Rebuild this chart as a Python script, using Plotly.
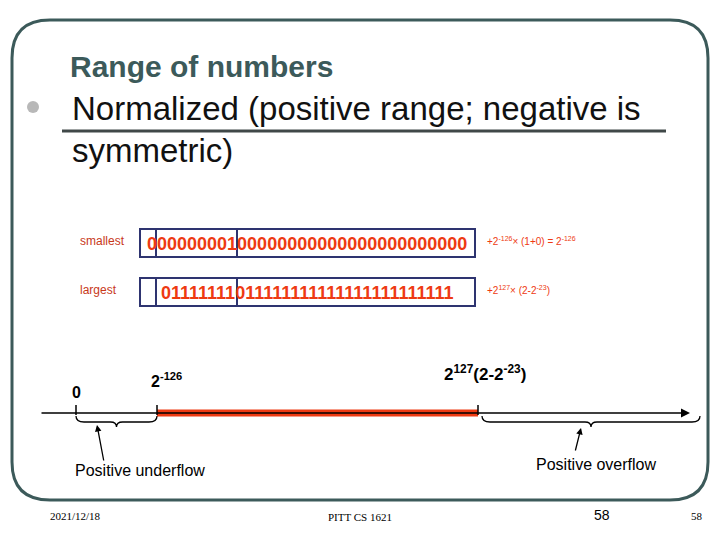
import plotly.graph_objects as go

row_labels = ["smallest", "largest"]
bit_strings = ["00000000100000000000000000000000", "01111111011111111111111111111111"]
formulas = ["+2<sup>-126</sup>× (1+0) = 2<sup>-126</sup>", "+2<sup>127</sup>× (2-2<sup>-23</sup>)"]
line_marks = ["0", "2<sup>-126</sup>", "2<sup>127</sup>(2-2<sup>-23</sup>)"]
region_labels = ["Positive underflow", "Positive overflow"]
footer = ["2021/12/18", "PITT CS 1621", "58", "58"]

RED = "#ee3a12"
NAVY = "#2e3470"
TEAL = "#3c5a5a"

fig = go.Figure()
shapes = []
ann = []

# slide frame
shapes.append(dict(type="path", path="M 50 20 L 670 20 Q 708 20 708 58 L 708 462 Q 708 500 670 500 L 50 500 Q 12 500 12 462 L 12 58 Q 12 20 50 20 Z",
                   line=dict(color=TEAL, width=3)))
shapes.append(dict(type="line", x0=62, x1=666, y0=131, y1=131, line=dict(color="#404848", width=3)))
shapes.append(dict(type="circle", x0=27, x1=39, y0=101, y1=113, fillcolor="#b8b8b8", line=dict(width=0)))

ann.append(dict(x=68, y=66, text="<b>Range of numbers</b>", xanchor="left", font=dict(size=30, color=TEAL)))
ann.append(dict(x=70, y=108, text="Normalized (positive range; negative is", xanchor="left", font=dict(size=33, color="#111")))
ann.append(dict(x=70, y=150, text="symmetric)", xanchor="left", font=dict(size=33, color="#111")))

# bit boxes
for i, (lab, bits, f) in enumerate(zip(row_labels, bit_strings, formulas)):
    yc = 243 + i * 49
    shapes.append(dict(type="rect", x0=140, x1=475, y0=yc - 14, y1=yc + 14, line=dict(color=NAVY, width=2)))
    for xd in (156, 237):
        shapes.append(dict(type="line", x0=xd, x1=xd, y0=yc - 14, y1=yc + 14, line=dict(color=NAVY, width=2)))
    ann.append(dict(x=78, y=yc - 2, text=lab, xanchor="left", font=dict(size=12, color="#c8381a")))
    ann.append(dict(x=307, y=yc + 1, text="<b>" + bits + "</b>", font=dict(size=18, color=RED)))
    ann.append(dict(x=485, y=yc - 2, text=f, xanchor="left", font=dict(size=10, color=RED)))

# number line
ly = 413
ann.append(dict(x=690, y=ly, ax=40, ay=ly, axref="x", ayref="y", text="", showarrow=True,
                arrowhead=2, arrowsize=1.2, arrowwidth=1.5, arrowcolor="black"))
shapes.append(dict(type="line", x0=157, x1=478, y0=ly, y1=ly, line=dict(color=RED, width=7)))
for xt in (76, 157, 478):
    shapes.append(dict(type="line", x0=xt, x1=xt, y0=ly - 8, y1=ly + 2, line=dict(color="black", width=1.5)))
ann.append(dict(x=76, y=392, text="<b>" + line_marks[0] + "</b>", font=dict(size=16, color="black")))
ann.append(dict(x=166, y=380, text="<b>" + line_marks[1] + "</b>", font=dict(size=16, color="black")))
ann.append(dict(x=485, y=373, text="<b>" + line_marks[2] + "</b>", font=dict(size=17, color="black")))

# braces
def brace(x0, x1, y):
    m = (x0 + x1) / 2
    return f"M {x0} {y} Q {x0} {y+6} {x0+8} {y+6} L {m-6} {y+6} Q {m} {y+6} {m} {y+11} Q {m} {y+6} {m+6} {y+6} L {x1-8} {y+6} Q {x1} {y+6} {x1} {y}"
shapes.append(dict(type="path", path=brace(76, 157, 416), line=dict(color="black", width=1.3)))
shapes.append(dict(type="path", path=brace(482, 700, 416), line=dict(color="black", width=1.3)))
ann.append(dict(x=97, y=425, ax=104, ay=462, axref="x", ayref="y", text="", showarrow=True,
                arrowhead=2, arrowwidth=1.3, arrowcolor="black"))
ann.append(dict(x=581, y=428, ax=575, ay=452, axref="x", ayref="y", text="", showarrow=True,
                arrowhead=2, arrowwidth=1.3, arrowcolor="black"))
ann.append(dict(x=140, y=470, text=region_labels[0], font=dict(size=16, color="black")))
ann.append(dict(x=596, y=464, text=region_labels[1], font=dict(size=16, color="black")))

# footer
ann.append(dict(x=75, y=516, text=footer[0], font=dict(size=11, family="Liberation Serif", color="black")))
ann.append(dict(x=360, y=517, text=footer[1], font=dict(size=11, family="Liberation Serif", color="black")))
ann.append(dict(x=602, y=515, text=footer[2], font=dict(size=14, color="black")))
ann.append(dict(x=697, y=516, text=footer[3], font=dict(size=11, family="Liberation Serif", color="black")))

for a in ann:
    a.setdefault("showarrow", False)
    a["xref"] = "x"
    a["yref"] = "y"
for s in shapes:
    s["xref"] = "x"
    s["yref"] = "y"

# the page body adds an 8px margin, so the axes are offset to compensate
fig.update_layout(
    width=720, height=540, margin=dict(l=0, r=0, t=0, b=0),
    plot_bgcolor="white", paper_bgcolor="white",
    font=dict(family="Liberation Sans"),
    xaxis=dict(range=[8, 728], visible=False),
    yaxis=dict(range=[548, 8], visible=False),
    shapes=shapes, annotations=ann, showlegend=False,
)
fig.write_html("out.html")
